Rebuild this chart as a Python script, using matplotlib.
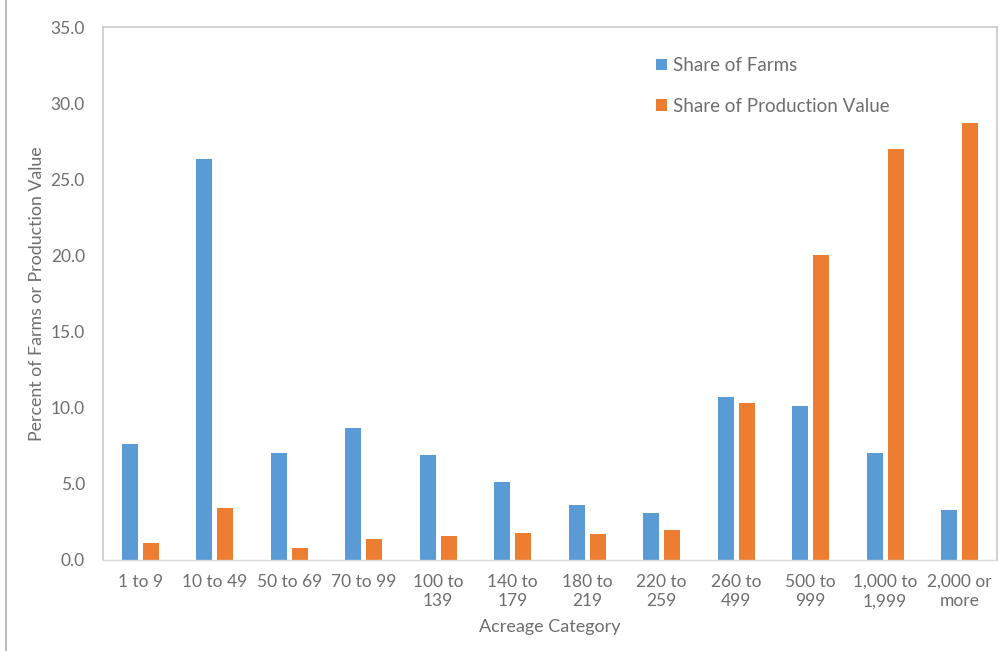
import matplotlib.pyplot as plt
from matplotlib.lines import Line2D
from matplotlib.ticker import FormatStrFormatter
import numpy as np

categories = ['1 to 9', '10 to 49', '50 to 69', '70 to 99', '100 to\n139',
              '140 to\n179', '180 to\n219', '220 to\n259', '260 to\n499',
              '500 to\n999', '1,000 to\n1,999', '2,000 or\nmore']
share_farms = [7.6, 26.3, 7.0, 8.7, 6.9, 5.1, 3.6, 3.1, 10.7, 10.1, 7.0, 3.3]
share_value = [1.1, 3.4, 0.8, 1.4, 1.6, 1.8, 1.7, 2.0, 10.3, 20.0, 27.0, 28.7]

blue = '#5B9BD5'
orange = '#ED7D31'
text_col = '#6E6E6E'
frame_col = '#C8C8C8'

plt.rcParams['font.family'] = ['Lato', 'DejaVu Sans']

fig = plt.figure(figsize=(10.03, 6.51), dpi=100)
ax = fig.add_axes([103 / 1003, 1 - 560 / 651, 894 / 1003, 533 / 651])

x = np.arange(len(categories))
w = 0.215
ax.bar(x - 0.14, share_farms, w, color=blue, label='Share of Farms')
ax.bar(x + 0.14, share_value, w, color=orange, label='Share of Production Value')

ax.set_xlim(-0.5, len(categories) - 0.5)
ax.set_ylim(0, 35)
ax.set_yticks(np.arange(0, 36, 5))
ax.yaxis.set_major_formatter(FormatStrFormatter('%.1f'))
ax.set_xticks(x)
ax.set_xticklabels(categories, linespacing=1.25)
ax.tick_params(axis='both', length=0, colors=text_col, labelsize=12.5)
ax.tick_params(axis='y', pad=13)
ax.tick_params(axis='x', pad=10)

for side in ['top', 'right', 'left']:
    ax.spines[side].set_color(frame_col)
    ax.spines[side].set_linewidth(1.2)
ax.spines['bottom'].set_color('#D9D9D9')
ax.spines['bottom'].set_linewidth(1.0)

ax.set_xlabel('Acreage Category', color=text_col, fontsize=13, labelpad=7)
ax.set_ylabel('Percent of Farms or Production Value', color=text_col,
              fontsize=12.8, labelpad=4)

leg = ax.legend(loc='upper left', bbox_to_anchor=(0.6, 0.975), frameon=False,
                fontsize=13.5, handlelength=0.55, handleheight=0.55,
                handletextpad=0.35, labelspacing=1.25)
for t in leg.get_texts():
    t.set_color(text_col)

# thin border down the left edge of the figure
fig.add_artist(Line2D([6 / 1003, 6 / 1003], [0, 1], transform=fig.transFigure,
                      color='#BDBDBD', linewidth=1.5))

fig.savefig('out.png', dpi=100)
